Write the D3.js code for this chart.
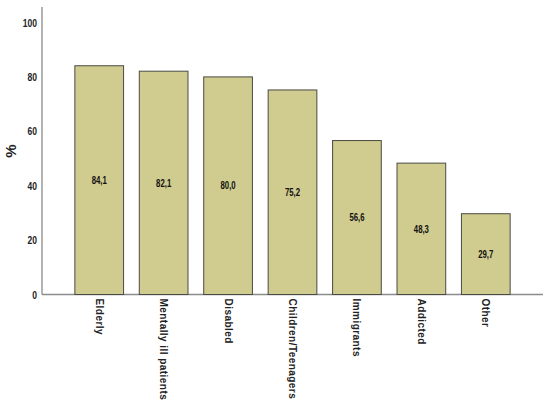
<!DOCTYPE html>
<html>
<head>
<meta charset="utf-8">
<script src="https://d3js.org/d3.v7.min.js"></script>
<style>
  body { margin: 0; background: #fff; }
</style>
</head>
<body>
<div id="chart-area"></div>
<script>
// data
var categories = ["Elderly", "Mentally ill patients", "Disabled", "Children/Teenagers",
                  "Immigrants", "Addicted", "Other"];
var values = [84.1, 82.1, 80.0, 75.2, 56.6, 48.3, 29.7];
var yTicks = [0, 20, 40, 60, 80, 100];

var width = 550, height = 407;
var font = "'Liberation Sans', Arial, sans-serif";
var squeeze = 0.74; // no narrow font installed, so condense by hand

var svg = d3.select("#chart-area").append("svg")
  .attr("width", width)
  .attr("height", height);

var x = d3.scaleBand()
  .domain(categories)
  .range([42, 543])
  .paddingInner(0.244)
  .paddingOuter(0.51);

var y = d3.scaleLinear()
  .domain([0, 100])
  .range([294.5, 22.5]);

// axes lines
svg.append("line")
  .attr("x1", 42).attr("x2", 42)
  .attr("y1", 7).attr("y2", y(0))
  .attr("stroke", "#8c8c8c").attr("stroke-width", 1.3);

svg.append("line")
  .attr("x1", 42).attr("x2", 543)
  .attr("y1", y(0)).attr("y2", y(0))
  .attr("stroke", "#8c8c8c").attr("stroke-width", 1.3);

// y tick labels
svg.selectAll(".ytick")
  .data(yTicks)
  .enter().append("text")
    .attr("class", "ytick")
    .attr("transform", function(d) { return "translate(37," + y(d) + ") scale(" + squeeze + ",1)"; })
    .attr("dy", "0.36em")
    .attr("text-anchor", "end")
    .attr("font-family", font)
    .attr("font-weight", "bold")
    .attr("font-size", "11.5px")
    .attr("fill", "#222")
    .text(function(d) { return d; });

// y label
svg.append("text")
  .attr("transform", "translate(16," + 151 + ") rotate(-90)")
  .attr("text-anchor", "middle")
  .attr("font-family", font)
  .attr("font-weight", "bold")
  .attr("font-size", "15px")
  .attr("fill", "#222")
  .text("%");

// bars
svg.selectAll("rect.bar")
  .data(values)
  .enter().append("rect")
    .attr("class", "bar")
    .attr("x", function(d, i) { return x(categories[i]); })
    .attr("y", function(d) { return y(d); })
    .attr("width", x.bandwidth())
    .attr("height", function(d) { return y(0) - y(d); })
    .attr("fill", "#d0cb8e")
    .attr("stroke", "#4a4a44")
    .attr("stroke-width", 1);

// value labels
svg.selectAll(".val")
  .data(values)
  .enter().append("text")
    .attr("class", "val")
    .attr("transform", function(d, i) {
      var cx = x(categories[i]) + x.bandwidth() / 2;
      return "translate(" + cx + "," + (y(d) + y(0)) / 2 + ") scale(" + squeeze + ",1)";
    })
    .attr("dy", "0.36em")
    .attr("text-anchor", "middle")
    .attr("font-family", font)
    .attr("font-weight", "bold")
    .attr("font-size", "10.5px")
    .attr("fill", "#111")
    .text(function(d) { return d.toFixed(1).replace(".", ","); });

// category labels, rotated
svg.selectAll(".cat")
  .data(categories)
  .enter().append("text")
    .attr("class", "cat")
    .attr("transform", function(d) {
      return "translate(" + (x(d) + x.bandwidth() / 2 - 3.5) + "," + (y(0) + 4) + ") rotate(90)";
    })
    .attr("text-anchor", "start")
    .attr("font-family", font)
    .attr("font-weight", "bold")
    .attr("font-size", "10px")
    .attr("letter-spacing", "0.45px")
    .attr("fill", "#222")
    .text(function(d) { return d; });
</script>
</body>
</html>
